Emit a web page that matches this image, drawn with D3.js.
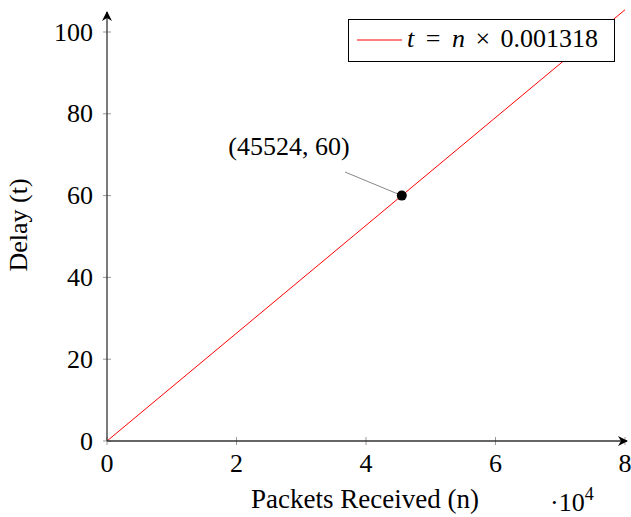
<!DOCTYPE html>
<html>
<head>
<meta charset="utf-8">
<script src="https://cdn.jsdelivr.net/npm/d3@7"></script>
<style>
  body { margin: 0; background: #fff; }
</style>
</head>
<body>
<div id="chart"></div>
<script>
// data
const xTicks = [0, 20000, 40000, 60000, 80000];
const yTicks = [0, 20, 40, 60, 80, 100];
const slope = 0.001318;
const lineN = [0, 80000];
const marked = [{n: 45524, t: 60}];

let width = 631, height = 517;
let svg = d3.select("#chart").append("svg")
    .attr("width", width)
    .attr("height", height)
    .attr("font-family", "'Liberation Serif', 'Times New Roman', serif");

let x = d3.scaleLinear().domain([0, 80000]).range([107, 625]);
let y = d3.scaleLinear().domain([0, 100]).range([441, 32]);

let defs = svg.append("defs");
defs.append("marker")
    .attr("id", "arrow")
    .attr("viewBox", "0 0 10 10")
    .attr("refX", 9).attr("refY", 5)
    .attr("markerWidth", 10).attr("markerHeight", 10)
    .attr("markerUnits", "userSpaceOnUse")
    .attr("orient", "auto")
    .append("path")
    .attr("d", "M0,0 L10,5 L0,10 L3,5 Z")
    .attr("fill", "#000");

// red line
let line = d3.line().x(d => x(d)).y(d => y(d * slope));
svg.append("path")
    .datum(lineN)
    .attr("d", line)
    .attr("fill", "none")
    .attr("stroke", "#ff0000")
    .attr("stroke-width", 1);

// ticks
let tickLen = 4;
svg.selectAll(".xt").data(xTicks).enter().append("line")
    .attr("x1", d => x(d)).attr("x2", d => x(d))
    .attr("y1", y(0) - tickLen).attr("y2", y(0) + tickLen)
    .attr("stroke", "#999").attr("stroke-width", 1);
svg.selectAll(".yt").data(yTicks).enter().append("line")
    .attr("y1", d => y(d)).attr("y2", d => y(d))
    .attr("x1", x(0) - tickLen).attr("x2", x(0) + tickLen)
    .attr("stroke", "#999").attr("stroke-width", 1);

// axis lines
svg.append("line")
    .attr("x1", x(0)).attr("y1", y(0))
    .attr("x2", 627).attr("y2", y(0))
    .attr("stroke", "#333").attr("stroke-width", 1.3)
    .attr("marker-end", "url(#arrow)");
svg.append("line")
    .attr("x1", x(0)).attr("y1", y(0))
    .attr("x2", x(0)).attr("y2", 12)
    .attr("stroke", "#333").attr("stroke-width", 1.3)
    .attr("marker-end", "url(#arrow)");

// tick labels
svg.selectAll(".xl").data(xTicks).enter().append("text")
    .attr("x", d => x(d)).attr("y", 472)
    .attr("text-anchor", "middle")
    .attr("font-size", 26)
    .text(d => d / 10000);
svg.selectAll(".yl").data(yTicks).enter().append("text")
    .attr("x", 93).attr("y", d => y(d) + 8.5)
    .attr("text-anchor", "end")
    .attr("font-size", 26)
    .text(d => d);

// axis titles
svg.append("text")
    .attr("x", 365).attr("y", 508)
    .attr("text-anchor", "middle")
    .attr("font-size", 27)
    .text("Packets Received (n)");
let sci = svg.append("text")
    .attr("x", 550).attr("y", 511)
    .attr("font-size", 26);
sci.append("tspan").text("·10");
sci.append("tspan").attr("dy", -11).attr("font-size", 18).text("4");

svg.append("text")
    .attr("transform", "translate(27,225) rotate(-90)")
    .attr("text-anchor", "middle")
    .attr("font-size", 26)
    .text("Delay (t)");

// marked point + pin
marked.forEach(p => {
    let px = x(p.n), py = y(p.t);
    svg.append("line")
        .attr("x1", 345).attr("y1", 172)
        .attr("x2", px).attr("y2", py)
        .attr("stroke", "#888").attr("stroke-width", 1);
    svg.append("circle")
        .attr("cx", px).attr("cy", py).attr("r", 5)
        .attr("fill", "#000");
    svg.append("text")
        .attr("x", 289).attr("y", 155)
        .attr("text-anchor", "middle")
        .attr("font-size", 26)
        .text(`(${p.n}, ${p.t})`);
});

// legend
let lg = svg.append("g");
lg.append("rect")
    .attr("x", 348.5).attr("y", 19.5)
    .attr("width", 266).attr("height", 42)
    .attr("fill", "#fff").attr("stroke", "#000").attr("stroke-width", 1);
lg.append("line")
    .attr("x1", 357).attr("x2", 402)
    .attr("y1", 40).attr("y2", 40)
    .attr("stroke", "#ff0000");
let lt = lg.append("text")
    .attr("x", 407).attr("y", 47)
    .attr("font-size", 26)
    .style("white-space", "pre");
lt.append("tspan").attr("font-style", "italic").text("t");
lt.append("tspan").attr("dx", 5).text(" = ");
lt.append("tspan").attr("dx", 5).attr("font-style", "italic").text("n");
lt.append("tspan").attr("dx", 4).text(" × ");
lt.append("tspan").attr("dx", 4).text("0.001318");
</script>
</body>
</html>
